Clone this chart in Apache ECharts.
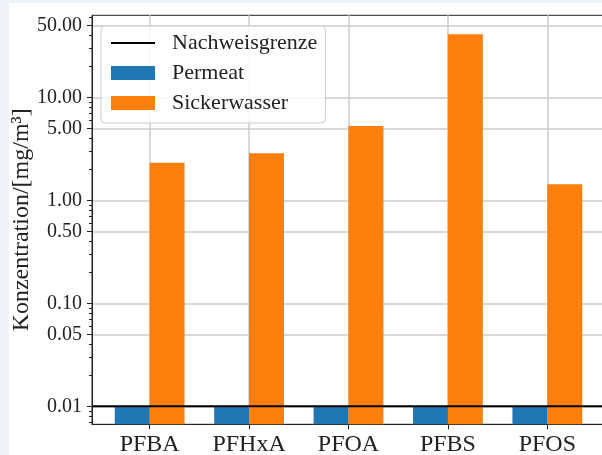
<!DOCTYPE html>
<html>
<head>
<meta charset="utf-8">
<script src="https://cdn.jsdelivr.net/npm/echarts@6/dist/echarts.min.js"></script>
<style>
  html, body { margin: 0; padding: 0; width: 602px; height: 455px; overflow: hidden; background: #eef3fb; }
  #chart { position: absolute; left: 9px; top: 3px; width: 596px; height: 452px; background: #ffffff; }
</style>
</head>
<body>
<div id="chart"></div>
<script>
// ---- data ----
const categories = ['PFBA', 'PFHxA', 'PFOA', 'PFBS', 'PFOS'];
const permeat = [0.01, 0.01, 0.01, 0.01, 0.01];
const sickerwasser = [2.32, 2.86, 5.26, 40.9, 1.43];
const nachweisgrenze = 0.01;
const yTickValues = [0.01, 0.05, 0.1, 0.5, 1, 5, 10, 50];
const yMinorTickValues = [0.006, 0.007, 0.008, 0.009,
  0.02, 0.03, 0.04, 0.06, 0.07, 0.08, 0.09,
  0.2, 0.3, 0.4, 0.6, 0.7, 0.8, 0.9,
  2, 3, 4, 6, 7, 8, 9,
  20, 30, 40, 60];
const yMin = 0.006687;
const yMax = 62.5;
const xMin = -0.58, xMax = 4.58;
const barOffset = 0.175;

// log transform so bars start at the bottom of the axis (matplotlib style)
const LOG_MIN = Math.log10(yMin);
const LOG_MAX = Math.log10(yMax);
const t = v => Math.log10(v) - LOG_MIN;

const FONT = 'Liberation Serif';
const chart = echarts.init(document.getElementById('chart'));

chart.setOption({
  animation: false,
  grid: { left: 83, top: 12.3, right: 0, bottom: 30.7, outerBoundsMode: 'none', containLabel: false,
    show: true, borderColor: '#222', borderWidth: 1, backgroundColor: 'transparent' },
  legend: {
    orient: 'vertical', left: 92, top: 23,
    data: [
      { name: 'Nachweisgrenze', icon: 'path://M0,0 L44,0 L44,2 L0,2 Z' },
      { name: 'Permeat', icon: 'rect' },
      { name: 'Sickerwasser', icon: 'rect' }
    ],
    symbolKeepAspect: true,
    itemWidth: 44, itemHeight: 14, itemGap: 8,
    padding: [6, 8, 9, 10],
    borderColor: '#cccccc', borderWidth: 1, borderRadius: 4,
    backgroundColor: 'rgba(255,255,255,0.85)',
    textStyle: { fontFamily: FONT, fontSize: 22, color: '#222', padding: [0, 0, 0, 12] }
  },
  xAxis: {
    type: 'value', min: xMin, max: xMax,
    axisLine: { show: true, onZero: false, lineStyle: { color: '#222', width: 1 } },
    axisTick: { show: true, length: 5, lineStyle: { color: '#222' }, customValues: categories.map((c, i) => i) },
    axisLabel: { customValues: categories.map((c, i) => i), formatter: v => categories[Math.round(v)] || '',
      fontFamily: FONT, fontSize: 24, color: '#222', margin: 8 },
    splitLine: { show: true, lineStyle: { color: '#cbcbcb', width: 1.5 } }
  },
  yAxis: [{
    type: 'value', min: 0, max: LOG_MAX - LOG_MIN,
    name: 'Konzentration/[mg/m³]', nameLocation: 'middle', nameGap: 58, nameMoveOverlap: false,
    nameTextStyle: { fontFamily: FONT, fontSize: 24, color: '#222' },
    axisLine: { show: true, onZero: false, lineStyle: { color: '#222', width: 1 } },
    axisTick: { show: true, length: 5, lineStyle: { color: '#222' }, customValues: yTickValues.map(t) },
    axisLabel: { customValues: yTickValues.map(t), formatter: v => Math.pow(10, v + LOG_MIN).toFixed(2),
      fontFamily: FONT, fontSize: 20, color: '#222', margin: 10 },
    splitLine: { show: true, lineStyle: { color: '#cbcbcb', width: 1.5 } }
  }, {
    type: 'value', min: 0, max: LOG_MAX - LOG_MIN, position: 'left',
    axisLine: { show: false, onZero: false },
    axisTick: { show: true, length: 3, lineStyle: { color: '#222' }, customValues: yMinorTickValues.map(t) },
    axisLabel: { show: false },
    splitLine: { show: false }
  }],
  series: [{
    name: 'Permeat', type: 'bar', yAxisIndex: 0,
    data: permeat.map((v, i) => [i - barOffset, t(v)]),
    barWidth: 35, barGap: '-100%',
    itemStyle: { color: '#1f77b4' }
  }, {
    name: 'Sickerwasser', type: 'bar', yAxisIndex: 0,
    data: sickerwasser.map((v, i) => [i + barOffset, t(v)]),
    barWidth: 35, barGap: '-100%',
    itemStyle: { color: '#ff7f0e' }
  }, {
    name: 'Nachweisgrenze', type: 'line', yAxisIndex: 0,
    data: [[xMin, t(nachweisgrenze)], [xMax, t(nachweisgrenze)]],
    symbol: 'none', z: 5,
    lineStyle: { color: '#000', width: 2 }, itemStyle: { color: '#000' }
  }]
});
</script>
</body>
</html>
